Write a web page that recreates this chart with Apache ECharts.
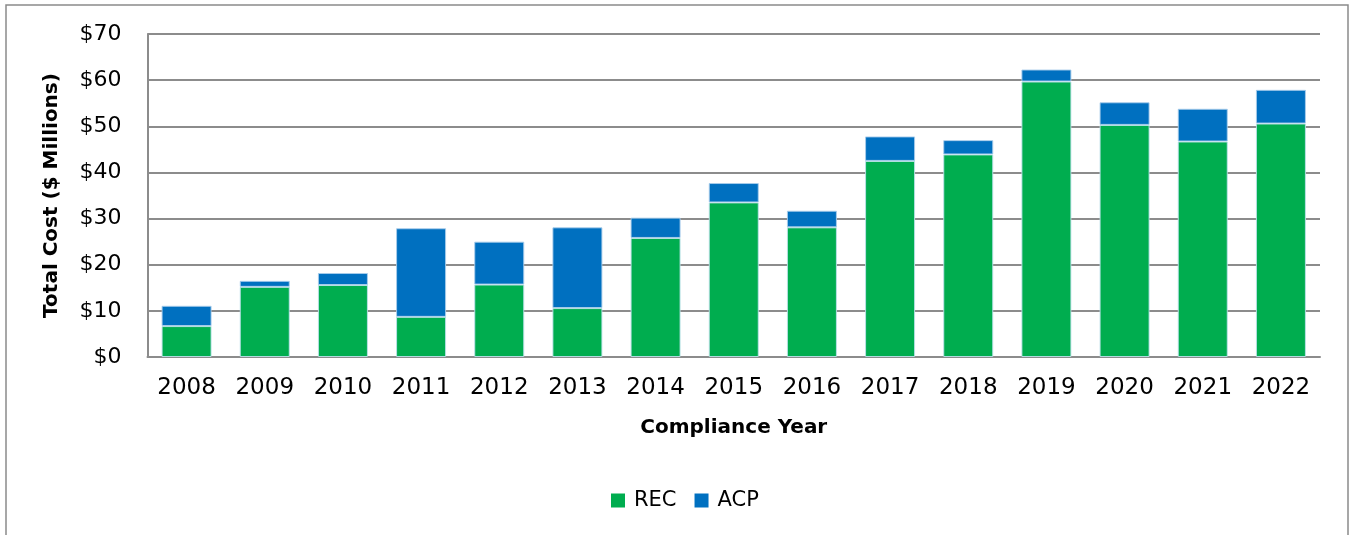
<!DOCTYPE html>
<html>
<head>
<meta charset="utf-8">
<title>Total Compliance Cost by Year</title>
<script src="https://cdn.jsdelivr.net/npm/echarts@6/dist/echarts.min.js"></script>
<style>
  html, body { margin: 0; padding: 0; background: #ffffff; }
  #chart { width: 1351px; height: 535px; }
</style>
</head>
<body>
<div id="chart"></div>
<script>
// Compliance years and cost components ($ millions)
const years = ['2008','2009','2010','2011','2012','2013','2014','2015','2016','2017','2018','2019','2020','2021','2022'];
const recCost = [6.7, 15.2, 15.6, 8.7, 15.7, 10.6, 25.8, 33.5, 28.1, 42.5, 43.9, 59.7, 50.3, 46.7, 50.6];
const acpCost = [4.4, 1.3, 2.6, 19.2, 9.3, 17.5, 4.4, 4.2, 3.6, 5.3, 3.1, 2.6, 4.9, 7.1, 7.3];
const yTicks = [0, 10, 20, 30, 40, 50, 60, 70];

const FONT = '"DejaVu Sans", "Liberation Sans", Arial, sans-serif';
const GRID_GREY = '#8c8c8c';

const chart = echarts.init(document.getElementById('chart'), null, { renderer: 'canvas' });

chart.setOption({
  backgroundColor: '#ffffff',
  animation: false,
  textStyle: { fontFamily: FONT, color: '#000' },
  graphic: [{
    type: 'rect',
    shape: { x: 6, y: 5, width: 1342, height: 540 },
    style: { fill: 'none', stroke: '#8a8a8a', lineWidth: 1.5 },
    silent: true,
    z: -1
  }],
  grid: { left: 147.5, right: 31, top: 34, bottom: 178, containLabel: false },
  legend: {
    data: ['REC', 'ACP'],
    left: 606,
    top: 485,
    itemWidth: 14,
    itemHeight: 14,
    itemGap: 18,
    icon: 'rect',
    itemStyle: { borderWidth: 0 },
    textStyle: { fontFamily: FONT, fontSize: 21, color: '#000', padding: [0, 0, 0, 4] }
  },
  xAxis: {
    type: 'category',
    data: years,
    name: 'Compliance Year',
    nameLocation: 'middle',
    nameGap: 61,
    nameTextStyle: { fontFamily: FONT, fontSize: 20, fontWeight: 'bold', color: '#000' },
    axisLine: { show: true, lineStyle: { color: GRID_GREY, width: 2 } },
    axisTick: { show: false },
    axisLabel: { interval: 0, fontFamily: FONT, fontSize: 23, color: '#000', margin: 20 }
  },
  yAxis: {
    type: 'value',
    min: yTicks[0],
    max: yTicks[yTicks.length - 1],
    interval: 10,
    name: 'Total Cost ($ Millions)',
    nameLocation: 'middle',
    nameGap: 86,
    nameTextStyle: { fontFamily: FONT, fontSize: 20, fontWeight: 'bold', color: '#000' },
    axisLine: { show: true, lineStyle: { color: GRID_GREY, width: 2 } },
    axisTick: { show: false },
    splitLine: { show: true, lineStyle: { color: GRID_GREY, width: 2 } },
    axisLabel: {
      fontFamily: FONT, fontSize: 22, color: '#000', margin: 26,
      formatter: v => '$' + v
    }
  },
  series: [
    {
      name: 'REC',
      type: 'bar',
      stack: 'cost',
      data: recCost,
      barWidth: 50,
      itemStyle: { color: '#00ad4f', borderColor: 'rgba(190,225,235,0.9)', borderWidth: 1 }
    },
    {
      name: 'ACP',
      type: 'bar',
      stack: 'cost',
      data: acpCost,
      barWidth: 50,
      itemStyle: { color: '#0070c0', borderColor: 'rgba(170,205,235,0.9)', borderWidth: 1 }
    }
  ]
});
</script>
</body>
</html>
